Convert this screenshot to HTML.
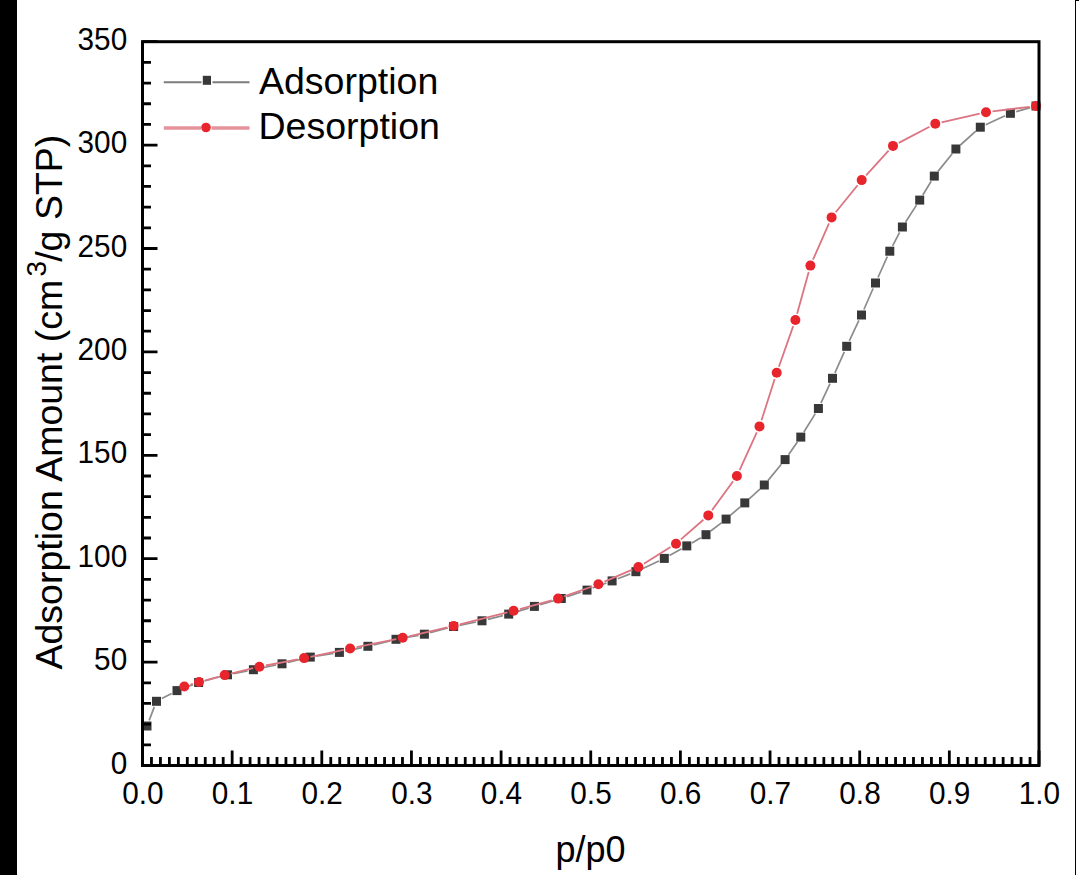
<!DOCTYPE html><html><head><meta charset="utf-8"><style>html,body{margin:0;padding:0;background:#fff;width:1079px;height:875px;overflow:hidden}svg{display:block}</style></head><body>
<svg width="1079" height="875" viewBox="0 0 1079 875" font-family="'Liberation Sans', sans-serif">
<rect x="0" y="0" width="1079" height="875" fill="#fff"/>
<rect x="0" y="0" width="17" height="875" fill="#000"/>
<rect x="1075" y="0" width="1" height="875" fill="#000"/>
<rect x="1075" y="0" width="4" height="1" fill="#000"/>
<path d="M149.2 720.4L154.3 706.9M161.8 698.5L171.7 693.4M182.6 688.5L193.0 684.6M204.4 681.0L221.7 676.3M233.4 673.6L247.5 670.9M259.3 668.5L276.1 665.0M287.8 662.4L304.5 658.5M316.2 656.1L333.5 653.4M345.3 651.1L362.0 647.6M373.7 644.8L390.2 640.8M401.9 638.2L418.5 635.3M430.2 632.7L447.8 628.0M459.5 625.3L476.1 622.0M487.8 619.3L502.9 615.6M514.4 612.4L528.7 608.1M540.2 604.7L555.5 600.2M567.0 596.6L581.3 592.0M592.6 588.0L606.5 583.0M617.7 578.7L630.3 573.9M641.3 569.2L658.9 560.9M669.5 555.5L681.6 548.8M692.0 542.9L700.8 537.7M710.7 531.0L721.4 522.8M730.6 515.2L740.3 506.8M749.2 498.8L759.9 489.1M768.1 480.4L781.3 464.2M788.5 454.7L797.4 442.0M803.9 432.0L815.3 413.6M820.9 403.1L830.0 383.7M834.9 372.8L844.3 351.8M849.3 340.9L858.9 320.4M863.9 309.5L873.1 288.5M878.0 277.5L887.3 256.7M892.6 245.9L899.6 232.3M905.6 222.0L916.5 205.1M922.8 195.0L931.2 181.2M938.0 171.4L952.2 153.7M960.4 145.0L975.8 131.2M985.7 124.7L1005.0 115.8M1016.2 111.7L1030.2 107.6" fill="none" stroke="#8c8c8c" stroke-width="1.7" stroke-linecap="butt"/>
<rect x="142.5" y="721.5" width="9" height="9" fill="#383838"/>
<rect x="152.0" y="696.8" width="9" height="9" fill="#383838"/>
<rect x="172.5" y="686.1" width="9" height="9" fill="#383838"/>
<rect x="194.1" y="678.0" width="9" height="9" fill="#383838"/>
<rect x="223.0" y="670.3" width="9" height="9" fill="#383838"/>
<rect x="248.9" y="665.2" width="9" height="9" fill="#383838"/>
<rect x="277.5" y="659.3" width="9" height="9" fill="#383838"/>
<rect x="305.8" y="652.6" width="9" height="9" fill="#383838"/>
<rect x="334.9" y="647.9" width="9" height="9" fill="#383838"/>
<rect x="363.4" y="641.8" width="9" height="9" fill="#383838"/>
<rect x="391.5" y="634.8" width="9" height="9" fill="#383838"/>
<rect x="419.9" y="629.7" width="9" height="9" fill="#383838"/>
<rect x="449.1" y="622.0" width="9" height="9" fill="#383838"/>
<rect x="477.5" y="616.3" width="9" height="9" fill="#383838"/>
<rect x="504.2" y="609.6" width="9" height="9" fill="#383838"/>
<rect x="529.9" y="601.9" width="9" height="9" fill="#383838"/>
<rect x="556.8" y="594.0" width="9" height="9" fill="#383838"/>
<rect x="582.5" y="585.6" width="9" height="9" fill="#383838"/>
<rect x="607.6" y="576.4" width="9" height="9" fill="#383838"/>
<rect x="631.4" y="567.2" width="9" height="9" fill="#383838"/>
<rect x="659.8" y="553.9" width="9" height="9" fill="#383838"/>
<rect x="682.3" y="541.4" width="9" height="9" fill="#383838"/>
<rect x="701.5" y="530.2" width="9" height="9" fill="#383838"/>
<rect x="721.6" y="514.6" width="9" height="9" fill="#383838"/>
<rect x="740.3" y="498.4" width="9" height="9" fill="#383838"/>
<rect x="759.8" y="480.5" width="9" height="9" fill="#383838"/>
<rect x="780.6" y="455.1" width="9" height="9" fill="#383838"/>
<rect x="796.3" y="432.6" width="9" height="9" fill="#383838"/>
<rect x="813.9" y="404.0" width="9" height="9" fill="#383838"/>
<rect x="828.0" y="373.8" width="9" height="9" fill="#383838"/>
<rect x="842.2" y="341.8" width="9" height="9" fill="#383838"/>
<rect x="857.0" y="310.5" width="9" height="9" fill="#383838"/>
<rect x="871.0" y="278.5" width="9" height="9" fill="#383838"/>
<rect x="885.3" y="246.7" width="9" height="9" fill="#383838"/>
<rect x="897.9" y="222.5" width="9" height="9" fill="#383838"/>
<rect x="915.2" y="195.6" width="9" height="9" fill="#383838"/>
<rect x="929.8" y="171.6" width="9" height="9" fill="#383838"/>
<rect x="951.4" y="144.5" width="9" height="9" fill="#383838"/>
<rect x="975.8" y="122.7" width="9" height="9" fill="#383838"/>
<rect x="1005.9" y="108.8" width="9" height="9" fill="#383838"/>
<rect x="1031.5" y="101.5" width="9" height="9" fill="#383838"/>
<path d="M190.5 684.6L192.8 683.9M205.3 680.3L218.4 676.8M231.0 673.6L253.1 668.2M265.8 665.5L297.7 659.3M310.5 656.8L343.7 649.8M356.5 647.2L396.3 639.1M409.0 636.3L447.3 627.4M459.9 624.3L507.3 612.4M519.9 609.1L551.8 600.3M564.2 596.4L592.3 586.5M604.4 581.7L632.4 569.7M643.9 563.7L670.5 547.1M680.9 539.4L703.4 519.7M712.1 510.1L733.1 481.3M739.6 470.1L756.8 432.3M761.5 420.2L774.7 379.0M778.9 366.7L793.2 326.1M797.1 313.7L808.7 271.9M813.0 259.7L829.0 223.3M835.7 212.3L857.6 185.2M866.1 175.3L888.6 150.7M898.8 142.9L929.5 126.8M941.6 122.4L979.7 113.6M992.5 111.4L1029.5 106.8" fill="none" stroke="#dc7482" stroke-width="1.8" stroke-linecap="butt"/>
<circle cx="184.3" cy="686.5" r="5" fill="#e8242c"/>
<circle cx="199.0" cy="682.0" r="5" fill="#e8242c"/>
<circle cx="224.7" cy="675.1" r="5" fill="#e8242c"/>
<circle cx="259.4" cy="666.7" r="5" fill="#e8242c"/>
<circle cx="304.1" cy="658.1" r="5" fill="#e8242c"/>
<circle cx="350.1" cy="648.5" r="5" fill="#e8242c"/>
<circle cx="402.7" cy="637.8" r="5" fill="#e8242c"/>
<circle cx="453.6" cy="625.9" r="5" fill="#e8242c"/>
<circle cx="513.6" cy="610.8" r="5" fill="#e8242c"/>
<circle cx="558.1" cy="598.6" r="5" fill="#e8242c"/>
<circle cx="598.4" cy="584.3" r="5" fill="#e8242c"/>
<circle cx="638.4" cy="567.1" r="5" fill="#e8242c"/>
<circle cx="676.0" cy="543.7" r="5" fill="#e8242c"/>
<circle cx="708.3" cy="515.4" r="5" fill="#e8242c"/>
<circle cx="736.9" cy="476.0" r="5" fill="#e8242c"/>
<circle cx="759.5" cy="426.4" r="5" fill="#e8242c"/>
<circle cx="776.7" cy="372.8" r="5" fill="#e8242c"/>
<circle cx="795.4" cy="320.0" r="5" fill="#e8242c"/>
<circle cx="810.4" cy="265.6" r="5" fill="#e8242c"/>
<circle cx="831.6" cy="217.4" r="5" fill="#e8242c"/>
<circle cx="861.7" cy="180.1" r="5" fill="#e8242c"/>
<circle cx="893.0" cy="145.9" r="5" fill="#e8242c"/>
<circle cx="935.3" cy="123.8" r="5" fill="#e8242c"/>
<circle cx="986.0" cy="112.2" r="5" fill="#e8242c"/>
<circle cx="1036.0" cy="106.0" r="5" fill="#e8242c"/>
<rect x="142.5" y="41.7" width="896.5" height="723.8" fill="none" stroke="#000" stroke-width="3"/>
<path d="M142.5 765.50H157.5M142.5 744.82H151.0M142.5 724.14H151.0M142.5 703.46H151.0M142.5 682.78H151.0M142.5 662.10H157.5M142.5 641.42H151.0M142.5 620.74H151.0M142.5 600.06H151.0M142.5 579.38H151.0M142.5 558.70H157.5M142.5 538.02H151.0M142.5 517.34H151.0M142.5 496.66H151.0M142.5 475.98H151.0M142.5 455.30H157.5M142.5 434.62H151.0M142.5 413.94H151.0M142.5 393.26H151.0M142.5 372.58H151.0M142.5 351.90H157.5M142.5 331.22H151.0M142.5 310.54H151.0M142.5 289.86H151.0M142.5 269.18H151.0M142.5 248.50H157.5M142.5 227.82H151.0M142.5 207.14H151.0M142.5 186.46H151.0M142.5 165.78H151.0M142.5 145.10H157.5M142.5 124.42H151.0M142.5 103.74H151.0M142.5 83.06H151.0M142.5 62.38H151.0M142.5 41.70H157.5M142.50 765.5V750.5M151.47 765.5V757.0M160.43 765.5V757.0M169.40 765.5V757.0M178.36 765.5V757.0M187.32 765.5V757.0M196.29 765.5V757.0M205.25 765.5V757.0M214.22 765.5V757.0M223.19 765.5V757.0M232.15 765.5V750.5M241.12 765.5V757.0M250.08 765.5V757.0M259.05 765.5V757.0M268.01 765.5V757.0M276.98 765.5V757.0M285.94 765.5V757.0M294.90 765.5V757.0M303.87 765.5V757.0M312.84 765.5V757.0M321.80 765.5V750.5M330.76 765.5V757.0M339.73 765.5V757.0M348.70 765.5V757.0M357.66 765.5V757.0M366.62 765.5V757.0M375.59 765.5V757.0M384.56 765.5V757.0M393.52 765.5V757.0M402.48 765.5V757.0M411.45 765.5V750.5M420.42 765.5V757.0M429.38 765.5V757.0M438.35 765.5V757.0M447.31 765.5V757.0M456.27 765.5V757.0M465.24 765.5V757.0M474.20 765.5V757.0M483.17 765.5V757.0M492.13 765.5V757.0M501.10 765.5V750.5M510.06 765.5V757.0M519.03 765.5V757.0M528.00 765.5V757.0M536.96 765.5V757.0M545.92 765.5V757.0M554.89 765.5V757.0M563.86 765.5V757.0M572.82 765.5V757.0M581.78 765.5V757.0M590.75 765.5V750.5M599.72 765.5V757.0M608.68 765.5V757.0M617.64 765.5V757.0M626.61 765.5V757.0M635.58 765.5V757.0M644.54 765.5V757.0M653.50 765.5V757.0M662.47 765.5V757.0M671.43 765.5V757.0M680.40 765.5V750.5M689.37 765.5V757.0M698.33 765.5V757.0M707.29 765.5V757.0M716.26 765.5V757.0M725.23 765.5V757.0M734.19 765.5V757.0M743.16 765.5V757.0M752.12 765.5V757.0M761.08 765.5V757.0M770.05 765.5V750.5M779.01 765.5V757.0M787.98 765.5V757.0M796.94 765.5V757.0M805.91 765.5V757.0M814.88 765.5V757.0M823.84 765.5V757.0M832.81 765.5V757.0M841.77 765.5V757.0M850.74 765.5V757.0M859.70 765.5V750.5M868.67 765.5V757.0M877.63 765.5V757.0M886.59 765.5V757.0M895.56 765.5V757.0M904.52 765.5V757.0M913.49 765.5V757.0M922.46 765.5V757.0M931.42 765.5V757.0M940.38 765.5V757.0M949.35 765.5V750.5M958.32 765.5V757.0M967.28 765.5V757.0M976.25 765.5V757.0M985.21 765.5V757.0M994.17 765.5V757.0M1003.14 765.5V757.0M1012.11 765.5V757.0M1021.07 765.5V757.0M1030.03 765.5V757.0M1039.00 765.5V750.5" stroke="#000" stroke-width="2.8" fill="none"/>
<text transform="translate(127.2 773.5) scale(0.96 1)" font-size="31" text-anchor="end" fill="#000">0</text>
<text transform="translate(127.2 670.1) scale(0.96 1)" font-size="31" text-anchor="end" fill="#000">50</text>
<text transform="translate(127.2 566.7) scale(0.96 1)" font-size="31" text-anchor="end" fill="#000">100</text>
<text transform="translate(127.2 463.3) scale(0.96 1)" font-size="31" text-anchor="end" fill="#000">150</text>
<text transform="translate(127.2 359.9) scale(0.96 1)" font-size="31" text-anchor="end" fill="#000">200</text>
<text transform="translate(127.2 256.5) scale(0.96 1)" font-size="31" text-anchor="end" fill="#000">250</text>
<text transform="translate(127.2 153.1) scale(0.96 1)" font-size="31" text-anchor="end" fill="#000">300</text>
<text transform="translate(127.2 49.7) scale(0.96 1)" font-size="31" text-anchor="end" fill="#000">350</text>
<text transform="translate(142.8 803.5) scale(0.96 1)" font-size="31" text-anchor="middle" fill="#000">0.0</text>
<text transform="translate(232.5 803.5) scale(0.96 1)" font-size="31" text-anchor="middle" fill="#000">0.1</text>
<text transform="translate(322.1 803.5) scale(0.96 1)" font-size="31" text-anchor="middle" fill="#000">0.2</text>
<text transform="translate(411.8 803.5) scale(0.96 1)" font-size="31" text-anchor="middle" fill="#000">0.3</text>
<text transform="translate(501.4 803.5) scale(0.96 1)" font-size="31" text-anchor="middle" fill="#000">0.4</text>
<text transform="translate(591.0 803.5) scale(0.96 1)" font-size="31" text-anchor="middle" fill="#000">0.5</text>
<text transform="translate(680.7 803.5) scale(0.96 1)" font-size="31" text-anchor="middle" fill="#000">0.6</text>
<text transform="translate(770.3 803.5) scale(0.96 1)" font-size="31" text-anchor="middle" fill="#000">0.7</text>
<text transform="translate(860.0 803.5) scale(0.96 1)" font-size="31" text-anchor="middle" fill="#000">0.8</text>
<text transform="translate(949.6 803.5) scale(0.96 1)" font-size="31" text-anchor="middle" fill="#000">0.9</text>
<text transform="translate(1039.3 803.5) scale(0.96 1)" font-size="31" text-anchor="middle" fill="#000">1.0</text>
<text x="590.5" y="862" font-size="36" text-anchor="middle" fill="#000">p/p0</text>
<g transform="rotate(-90)">
<text x="-669.5" y="61.5" font-size="37.5" fill="#000">Adsorption Amount (cm</text>
<text x="-276.5" y="46" font-size="28" fill="#000">3</text>
<text x="-261.8" y="61.5" font-size="37.5" fill="#000">/g STP)</text>
</g>
<path d="M163.8 82.3H201.5M212.5 82.3H249.5" stroke="#7c7c7c" stroke-width="2"/>
<rect x="202.8" y="75.8" width="8.2" height="9" fill="#383838"/>
<path d="M163.8 128H201M211.5 128H249.5" stroke="#e5939b" stroke-width="3.5"/>
<circle cx="206" cy="127.5" r="4.8" fill="#e8242c"/>
<text x="259" y="93.5" font-size="37.5" fill="#000">Adsorption</text>
<text x="258.5" y="139.3" font-size="37.5" fill="#000">Desorption</text>
</svg></body></html>
